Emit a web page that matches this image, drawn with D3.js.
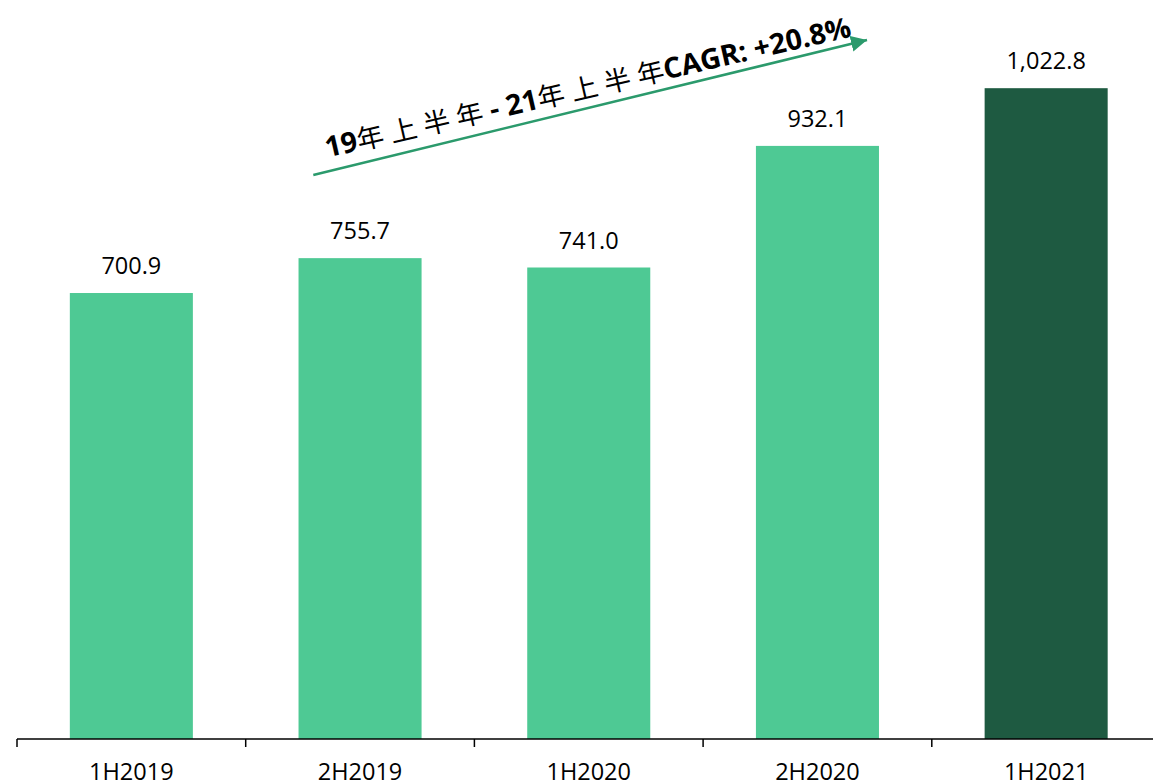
<!DOCTYPE html>
<html><head><meta charset="utf-8">
<script src="https://cdn.jsdelivr.net/npm/d3@7"></script>
<style>body{margin:0;background:#fff;} svg{display:block;}</style>
</head><body>
<svg id="c" width="1153" height="784"></svg>
<script>
const categories = ["1H2019","2H2019","1H2020","2H2020","1H2021"];
const values = [700.9, 755.7, 741.0, 932.1, 1022.8];
const highlight = ["1H2021"];
const annotationParts = [
  {t:"19", cjk:false}, {t:"年上半年", cjk:true}, {t:" - 21", cjk:false},
  {t:"年上半年", cjk:true}, {t:"CAGR: +20.8%", cjk:false}
];

const svg = d3.select("#c");
const x = d3.scaleBand().domain(categories).range([17, 1160.5]).paddingInner(0.462).paddingOuter(0.231);
const y = d3.scaleLinear().domain([0, 1161.4]).range([739, 0]);

const light = "#4ec994", dark = "#1e5a41";

svg.selectAll("rect.bar").data(categories).join("rect")
  .attr("class","bar")
  .attr("x", d => x(d))
  .attr("width", x.bandwidth())
  .attr("y", (d,i) => y(values[i]))
  .attr("height", (d,i) => y(0) - y(values[i]))
  .attr("fill", d => highlight.includes(d) ? dark : light);

svg.selectAll("text.val").data(categories).join("text")
  .attr("class","val")
  .attr("x", d => x(d) + x.bandwidth()/2)
  .attr("y", (d,i) => y(values[i]) - 19)
  .attr("text-anchor","middle")
  .attr("font-family","'Open Sans', sans-serif")
  .attr("font-size", 23.5)
  .attr("fill","#000")
  .text((d,i) => d3.format(",.1f")(values[i]));

// x axis with ticks between categories
const axisG = svg.append("g");
const step = x.step();
const edges = d3.range(categories.length + 1).map(i => x.range()[0] + i * step);
axisG.append("line")
  .attr("x1", x.range()[0]).attr("x2", x.range()[1])
  .attr("y1", y(0)).attr("y2", y(0))
  .attr("stroke","#000").attr("stroke-width",1.5);
axisG.selectAll("line.tk").data(edges).join("line")
  .attr("class","tk")
  .attr("x1", d=>d).attr("x2", d=>d)
  .attr("y1", y(0)).attr("y2", y(0)+8)
  .attr("stroke","#000").attr("stroke-width",1.5);
axisG.selectAll("text.cat").data(categories).join("text")
  .attr("class","cat")
  .attr("x", d => x(d) + x.bandwidth()/2)
  .attr("y", 780)
  .attr("text-anchor","middle")
  .attr("font-family","'Open Sans', sans-serif")
  .attr("font-size", 23.5)
  .attr("fill","#000")
  .text(d => d);

// CAGR arrow
const arrowColor = "#2b9a6c";
svg.append("defs").append("marker")
  .attr("id","ah").attr("viewBox","0 0 10 10").attr("refX",10).attr("refY",5)
  .attr("markerWidth",16).attr("markerHeight",16).attr("markerUnits","userSpaceOnUse")
  .attr("orient","auto")
  .append("path").attr("d","M0,0 L10,5 L0,10 Z").attr("fill",arrowColor);
const ax1 = x(categories[1]) + x.bandwidth()*0.12, ay1 = 175;
svg.append("line")
  .attr("x1", ax1).attr("y1", ay1)
  .attr("x2", 867).attr("y2", 40)
  .attr("stroke", arrowColor).attr("stroke-width", 2.5)
  .attr("marker-end","url(#ah)");

// split annotation into glyph runs; CJK characters spaced individually
const runs = [];
annotationParts.forEach(p => {
  if (p.cjk) Array.from(p.t).forEach((ch, k) => runs.push({t: ch, cjk: true, gap: k > 0}));
  else runs.push({t: p.t, cjk: false, gap: false});
});
const ann = svg.append("text")
  .attr("transform","translate(590,97) rotate(-13)")
  .attr("text-anchor","middle")
  .attr("fill","#000");
ann.selectAll("tspan").data(runs).join("tspan")
  .attr("font-family", d => d.cjk ? "'Noto Sans CJK SC', sans-serif" : "'Open Sans', sans-serif")
  .attr("font-weight", d => d.cjk ? 400 : 700)
  .attr("font-size", d => d.cjk ? 27 : 28.5)
  .attr("dx", d => d.gap ? 7 : 0)
  .text(d => d.t);
</script>
</body></html>
